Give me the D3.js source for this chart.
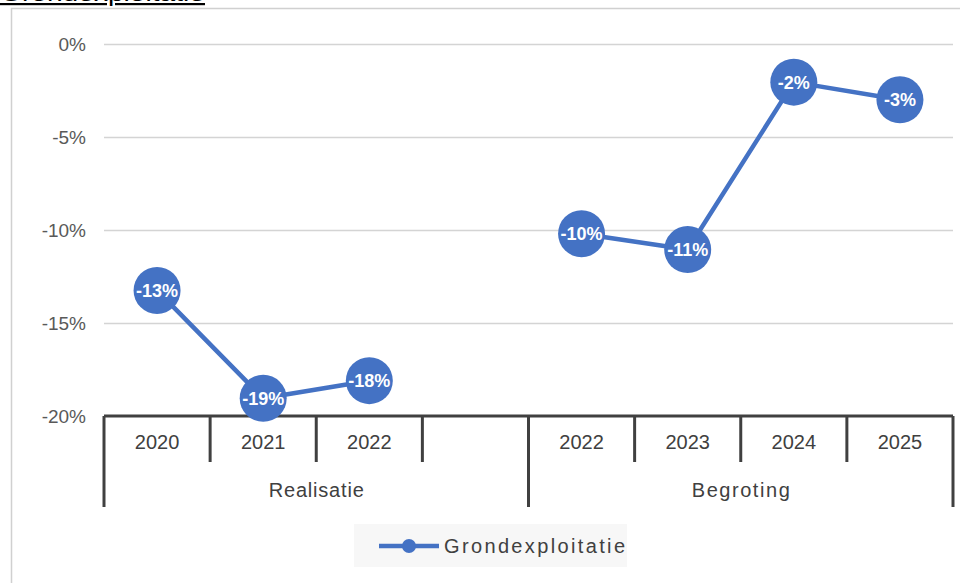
<!DOCTYPE html>
<html><head><meta charset="utf-8">
<script src="https://cdn.jsdelivr.net/npm/d3@7"></script>
<style>body{margin:0;background:#fff}svg{display:block}</style>
</head><body>
<script>
const years = ["2020","2021","2022","","2022","2023","2024","2025"];
const groups = ["Realisatie","Realisatie","Realisatie","Realisatie","Begroting","Begroting","Begroting","Begroting"];
const values = [-13.25, -19.05, -18.1, null, -10.2, -11.05, -2.05, -3.0];
const yTicks = [0, -5, -10, -15, -20];
const seriesName = "Grondexploitatie";
const titleText = "Grondexploitatie";

const W = 960, H = 583;
const svg = d3.select("body").append("svg").attr("width", W).attr("height", H);
const font = "'Liberation Sans', Arial, sans-serif";
const blue = "#4472C4";

// frame
svg.append("path").attr("d", `M11.5,${H} V8.5 H${W}`).attr("fill","none").attr("stroke","#d0d0d0").attr("stroke-width",1.5);

// title (cut at top, as in the reference)
svg.append("text").attr("x",0).attr("y",1).attr("font-family",font).attr("font-size",22)
  .attr("fill","#000").attr("text-decoration","underline").attr("textLength",205).attr("lengthAdjust","spacingAndGlyphs").text(titleText);

const keys = years.map((d,i)=>i);
const x = d3.scaleBand().domain(keys).range([104, 953]).padding(0);
const y = d3.scaleLinear().domain([-20, 0]).range([416, 44]);

// gridlines
svg.append("g").selectAll("line").data(yTicks.filter(t=>t!==-20)).join("line")
  .attr("x1",104).attr("x2",953).attr("y1",d=>y(d)+0.5).attr("y2",d=>y(d)+0.5)
  .attr("stroke","#d4d4d4").attr("stroke-width",1.5);

// y axis labels
svg.append("g").selectAll("text").data(yTicks).join("text")
  .attr("x",86).attr("y",d=>y(d)).attr("dy","0.35em").attr("text-anchor","end")
  .attr("font-family",font).attr("font-size",19).attr("fill","#595959")
  .text(d=>`${d}%`);

// category axis
const axisCol = "#404040";
const ax = svg.append("g");
ax.append("line").attr("x1",104).attr("x2",953).attr("y1",416).attr("y2",416).attr("stroke",axisCol).attr("stroke-width",3);
const bounds = d3.range(years.length+1);
bounds.forEach(b=>{
  const xx = b < years.length ? x(b) : x(years.length-1)+x.bandwidth();
  const isGroupEdge = b===0 || b===years.length || groups[b]!==groups[b-1];
  ax.append("line").attr("x1",xx).attr("x2",xx).attr("y1",416).attr("y2",isGroupEdge?507:462)
    .attr("stroke",axisCol).attr("stroke-width",3);
});
ax.selectAll("text.yr").data(keys).join("text").attr("class","yr")
  .attr("x",d=>x(d)+x.bandwidth()/2).attr("y",442).attr("dy","0.35em").attr("text-anchor","middle")
  .attr("font-family",font).attr("font-size",20).attr("fill","#404040").text(d=>years[d]);
const groupNames = Array.from(new Set(groups));
const groupWidths = {"Realisatie":95, "Begroting":98};
groupNames.forEach(g=>{
  const idx = keys.filter(i=>groups[i]===g);
  const x0 = x(idx[0]), x1 = x(idx[idx.length-1])+x.bandwidth();
  ax.append("text").attr("x",(x0+x1)/2).attr("y",490).attr("dy","0.35em").attr("text-anchor","middle")
    .attr("font-family",font).attr("font-size",20).attr("fill","#404040")
    .attr("textLength",groupWidths[g]).attr("lengthAdjust","spacing").text(g);
});

// line
const pts = keys.map(i=>({i, v: values[i]}));
const line = d3.line().defined(d=>d.v!=null).x(d=>x(d.i)+x.bandwidth()/2).y(d=>y(d.v));
svg.append("path").datum(pts).attr("d",line).attr("fill","none").attr("stroke",blue).attr("stroke-width",4.5).attr("stroke-linejoin","round");

const valid = pts.filter(d=>d.v!=null);
svg.append("g").selectAll("circle").data(valid).join("circle")
  .attr("cx",d=>x(d.i)+x.bandwidth()/2).attr("cy",d=>y(d.v)).attr("r",23.5).attr("fill",blue);
svg.append("g").selectAll("text").data(valid).join("text")
  .attr("x",d=>x(d.i)+x.bandwidth()/2).attr("y",d=>y(d.v)).attr("dy","0.36em").attr("text-anchor","middle")
  .attr("font-family",font).attr("font-size",18).attr("font-weight","bold").attr("fill","#fff")
  .text(d=>Math.round(d.v)+"%");

// legend
const lg = svg.append("g");
lg.append("rect").attr("x",354).attr("y",524).attr("width",273).attr("height",43).attr("fill","#f7f7f7");
lg.append("line").attr("x1",379).attr("x2",439).attr("y1",546).attr("y2",546).attr("stroke",blue).attr("stroke-width",4.5);
lg.append("circle").attr("cx",409).attr("cy",546).attr("r",7).attr("fill",blue);
lg.append("text").attr("x",444).attr("y",546).attr("dy","0.35em").attr("font-family",font).attr("font-size",20)
  .attr("fill","#404040").attr("textLength",181).attr("lengthAdjust","spacing").text(seriesName);
</script>
</body></html>
